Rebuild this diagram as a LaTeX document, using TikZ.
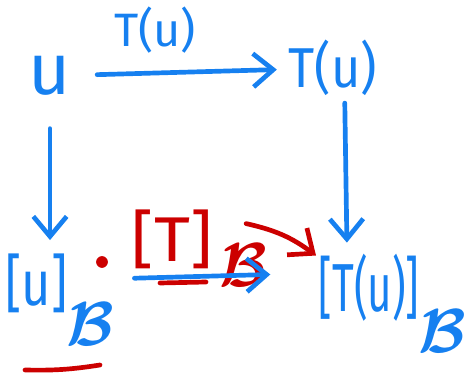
\documentclass[tikz,border=0pt]{standalone}
\usepackage{amsmath,amssymb}
\usepackage{fontspec}
\setmainfont{Fira Sans}
\usetikzlibrary{arrows.meta,positioning}

\definecolor{inkblue}{RGB}{22,128,240}
\definecolor{inkred}{RGB}{204,0,0}
% hand-drawn letters are tall and narrow
\newcommand{\narrow}[2][0.8]{\scalebox{#1}[1]{#2}}
\newcommand{\basisB}[1][0.7em]{\kern-1pt\raisebox{-#1}{\scalebox{5.3}{\normalsize$\boldsymbol{\mathcal{B}}$}}}

\begin{document}
\begin{tikzpicture}[
  x=0.03cm, y=-0.03cm,
  every node/.style={inner sep=2pt, font=\fontsize{48}{56}\selectfont},
  blueink/.style={text=inkblue},
  redink/.style={text=inkred},
  pen/.style={line width=4pt, line cap=round, line join=round},
  bluearrow/.style={pen, draw=inkblue, ->},
  redarrow/.style={pen, draw=inkred, ->},
  >={Straight Barb[length=6mm,width=10mm]}
]
\useasboundingbox (0,0) rectangle (469,375);

\node[blueink, font=\fontsize{62}{70}\selectfont] (u) at (50,76) {u};
\node[blueink] (Tu) at (333,68) {\narrow[0.9]{T(u)}};
\node[blueink, font=\fontsize{40}{48}\selectfont] (lbl) at (155,30) {T(u)};
\node[blueink, anchor=base west, font=\fontsize{54}{60}\selectfont] (uB) at (3,306)
  {\narrow[0.8]{[u]}\basisB[0.62em]};
\node[redink, anchor=base west, font=\fontsize{54}{60}\selectfont] (TB) at (129,262)
  {\narrow[1.1]{[T]}\kern6pt\basisB[0.38em]};
\node[blueink, anchor=base west, font=\fontsize{58}{64}\selectfont] (TuB) at (316,312)
  {\narrow[0.62]{[T(u)]}\basisB[0.6em]};
\node[circle, fill=inkred, inner sep=0pt, minimum size=10pt] (dot) at (102,262) {};

% maps
\draw[bluearrow, shorten <=20pt, shorten >=8pt] (u) -- (Tu);
\draw[bluearrow, shorten <=26pt, shorten >=10pt] (u) -- (u |- uB.north);
\draw[bluearrow, shorten <=4pt, shorten >=8pt]
  ([xshift=10pt]Tu.south) -- ([xshift=12pt]Tu.south |- TuB.north);
\draw[bluearrow, shorten <=15pt, shorten >=39pt]
  ([yshift=18pt]uB.east) -- ([yshift=26pt]TuB.west);
\draw[redarrow] ([shift={(-20pt,21pt)}]TB.east) to[bend left=12]
  ([yshift=-3pt]TuB.north west);

% underlines
\draw[pen, draw=inkred] (160,283) -- (206,282);
\draw[pen, draw=inkred] (25,370) to[bend right=5] (100,365);
\end{tikzpicture}
\end{document}
